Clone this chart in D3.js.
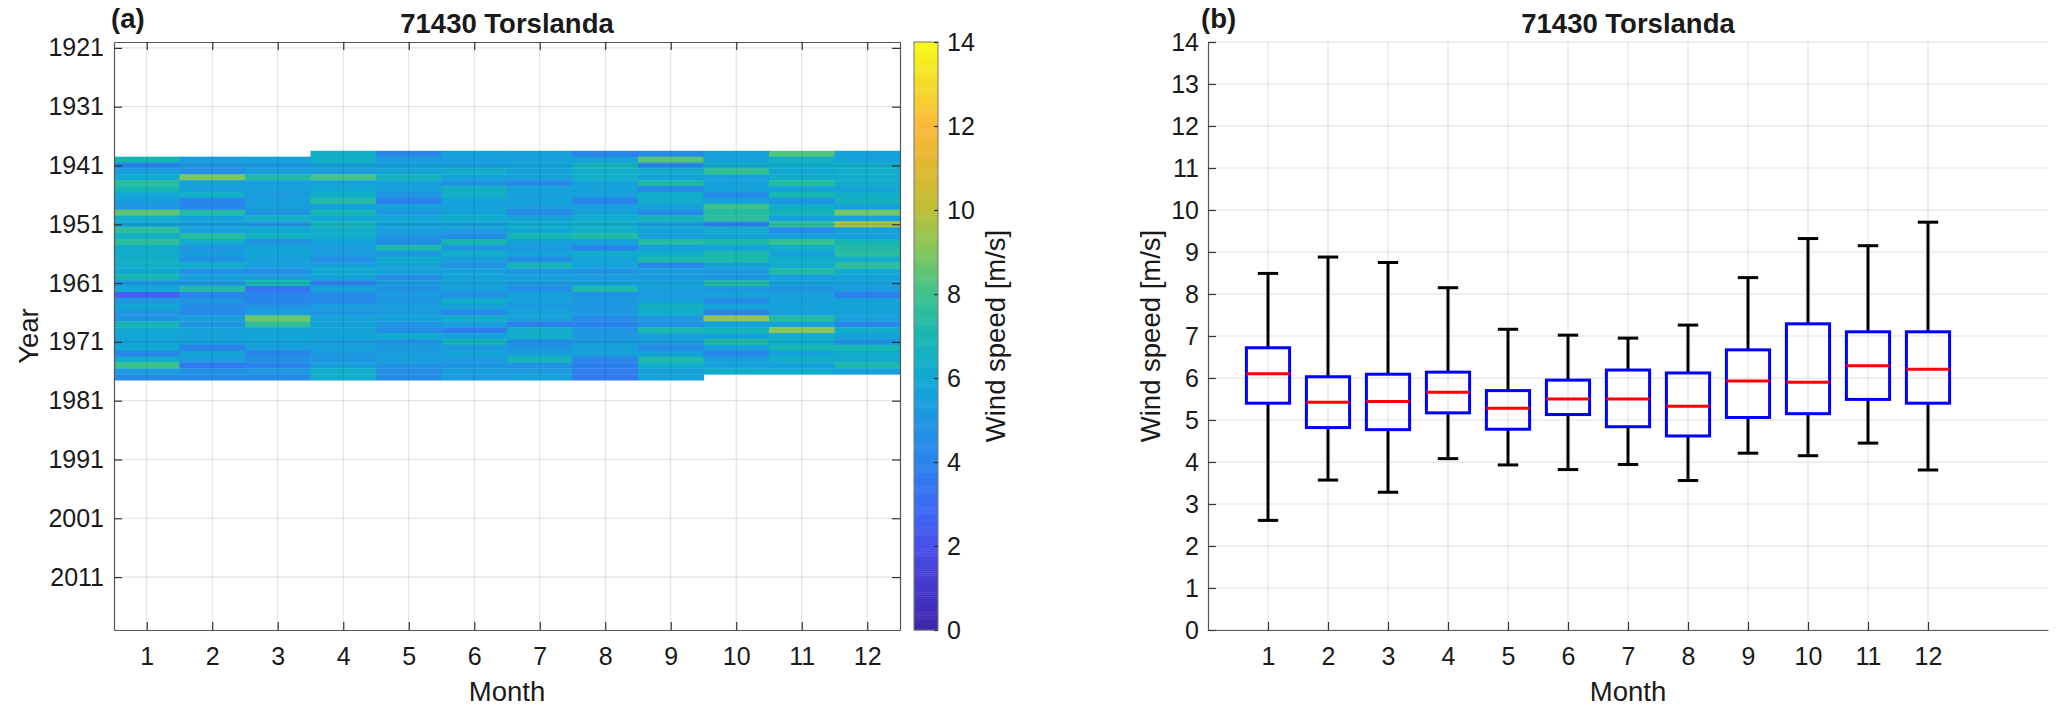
<!DOCTYPE html>
<html><head><meta charset="utf-8">
<script src="https://cdn.jsdelivr.net/npm/d3@7/dist/d3.min.js"></script>
<style>
body{margin:0;background:#fff}
svg{display:block}
text{font-family:"Liberation Sans",Arial,Helvetica,sans-serif;fill:#1a1a1a}
</style>
</head><body>
<svg id="c" width="2067" height="713"></svg>
<script>
// ---------------- DATA ----------------
const stationTitle = "71430 Torslanda";
const months = [1,2,3,4,5,6,7,8,9,10,11,12];
const firstYear = [1940,1940,1940,1939,1939,1939,1939,1939,1939,1939,1939,1939];
// monthly mean wind speed [m/s], one value per year starting at firstYear
const jan = [7.0,4.2,5.5,6.0,7.5,7.0,6.0,5.3,5.0,8.5, 6.3,5.7,7.6,6.4,7.6,6.3,6.3,6.4,6.4,6.1, 7.0,5.2,6.0,2.6,5.1,5.9,5.0,4.8,6.9,6.1, 5.8,5.7,6.0,4.2,6.3,8.0,5.3,4.5];
const feb = [5.3,5.0,4.6,8.9,5.5,5.6,6.4,4.1,4.2,7.3, 5.7,5.4,5.5,7.4,6.3,5.0,5.4,4.8,6.3,4.8, 5.5,5.1,7.3,4.1,4.9,4.5,4.4,5.5,5.0,5.7, 5.5,5.6,4.0,5.7,5.3,3.6,4.8,4.5];
const mar = [5.6,5.1,5.4,7.3,5.5,5.6,5.2,5.5,5.4,4.9, 6.4,5.0,6.0,6.5,4.9,5.7,5.8,5.6,5.5,4.6, 5.3,6.9,3.3,4.1,4.1,4.9,5.4,8.7,7.7,5.7, 5.9,5.6,5.4,4.2,4.8,4.0,5.1,4.5];
const apr = [6.3,6.4,5.7,5.3,8.1,5.6,5.9,6.3,7.4,5.7, 6.9,5.9,6.8,6.3,6.3,5.6,5.3,5.3,4.6,5.6, 6.1,5.7,4.1,5.6,4.4,4.4,5.3,5.0,5.6,5.7, 5.7,5.8,5.3,5.6,5.2,5.0,5.5,6.3,6.2];
const may = [4.2,5.3,5.6,5.7,6.7,5.6,5.5,5.0,3.9,5.6, 5.1,5.9,5.6,5.5,5.0,4.6,7.15,5.2,6.2,5.7, 5.6,4.6,5.2,4.9,5.2,5.0,5.3,5.4,5.6,4.9, 4.6,6.1,5.0,5.2,5.3,5.5,4.9,4.6,4.5];
const jun = [5.6,5.3,5.6,6.3,5.7,4.9,6.5,6.4,5.7,5.6, 5.7,6.2,5.6,5.3,4.6,7.0,5.0,6.3,5.5,4.8, 5.6,5.7,5.6,5.5,4.6,6.3,5.6,4.4,6.3,5.5, 3.8,5.6,6.8,5.3,5.6,5.2,5.0,5.4,5.3];
const jul = [5.5,5.6,5.7,5.7,5.6,4.4,5.6,5.5,5.6,5.3, 4.4,5.7,6.2,5.9,6.95,5.6,5.2,5.6,4.6,6.8, 5.0,5.6,5.2,4.6,5.6,5.5,5.2,5.6,5.6,3.9, 6.3,6.3,4.8,4.8,5.5,6.8,4.9,5.2,5.5];
const aug = [4.0,5.6,6.8,6.3,6.3,5.7,5.6,5.5,4.0,5.5, 5.6,6.2,6.3,6.3,7.25,5.6,4.2,6.3,5.7,5.6, 4.9,5.2,5.6,7.2,4.8,5.2,5.0,5.2,4.4,4.0, 4.9,5.0,5.2,5.6,5.5,4.1,3.9,3.8,3.55];
const sep = [4.4,8.4,4.4,6.3,5.6,7.1,4.4,6.2,6.3,5.6, 4.4,6.8,5.6,5.7,5.6,7.4,5.7,6.3,7.1,4.2, 5.5,5.2,5.6,5.5,5.3,5.6,6.5,6.3,5.2,4.6, 7.1,5.6,5.2,4.4,5.6,7.2,6.3,5.6,5.5];
const oct = [5.5,5.6,6.2,7.8,5.6,5.5,5.7,4.4,5.6,7.9, 7.4,7.6,4.2,6.3,5.7,7.2,5.6,7.1,7.1,5.6, 5.2,4.8,7.3,5.2,5.6,4.4,5.6,4.2,9.3,5.6, 6.8,5.6,7.3,5.5,4.1,5.6,5.6,6.3];
const nov = [8.3,6.5,6.3,5.9,6.3,7.4,5.7,7.0,4.9,6.3, 6.8,5.6,7.6,4.45,5.6,7.8,6.3,5.6,6.3,6.2, 7.3,5.6,5.6,4.9,5.5,5.6,5.7,5.5,7.3,5.7, 9.15,6.3,6.2,6.9,5.7,6.3,5.6,6.2];
const dec = [5.6,5.7,6.3,6.3,6.2,6.3,5.7,6.3,6.7,5.6, 8.8,5.6,9.7,5.6,5.5,6.9,7.3,7.5,6.3,7.6, 6.2,5.6,5.6,5.3,3.8,5.6,5.7,5.6,5.6,4.2, 6.3,5.6,4.9,6.9,6.3,6.2,7.2,5.6];
const monthlySeries = [jan,feb,mar,apr,may,jun,jul,aug,sep,oct,nov,dec];

const yearTicks = [1921,1931,1941,1951,1961,1971,1981,1991,2001,2011];
const speedTicks = [0,1,2,3,4,5,6,7,8,9,10,11,12,13,14];
const colorbarTicks = [0,2,4,6,8,10,12,14];

// box plot statistics per month
const whiskerLow  = [2.61,3.57,3.28,4.08,3.93,3.82,3.94,3.56,4.21,4.15,4.45,3.81];
const quart1      = [5.40,4.82,4.77,5.17,4.78,5.13,4.84,4.62,5.06,5.15,5.49,5.40];
const medians     = [6.10,5.42,5.44,5.66,5.28,5.50,5.50,5.33,5.93,5.90,6.29,6.21];
const quart3      = [6.72,6.03,6.09,6.14,5.70,5.95,6.19,6.12,6.67,7.29,7.10,7.10];
const whiskerHigh = [8.49,8.88,8.75,8.15,7.16,7.02,6.95,7.26,8.39,9.32,9.15,9.71];

// parula-like colormap stops (value 0..14)
const parulaStops = ["#3e26a8","#4536cb","#4750ea","#3c6cf6","#2a82ec","#1e96e2","#0fa9d4",
                     "#16b7b2","#3dc28c","#80c75c","#bcbf36","#dfb82f","#fbb83b","#f4dc2a","#f9fb15"];

// ---------------- DRAW ----------------
const svg = d3.select("#c");
const TICK = 25, LABEL = 27.5;
const axisColor = "#555";

const cells = [];
monthlySeries.forEach((arr, mi) => arr.forEach((v, i) => cells.push({m: months[mi], year: firstYear[mi] + i, v})));

const color = d3.scaleLinear().domain(d3.range(parulaStops.length)).range(parulaStops)
  .interpolate(d3.interpolateRgb).clamp(true);

function styleAxis(g){
  g.selectAll(".domain").attr("stroke", axisColor).attr("stroke-width", 1.2);
  g.selectAll(".tick line").attr("stroke", "#333").attr("stroke-width", 1.2);
  g.selectAll(".tick text").attr("font-size", TICK).attr("fill", "#1a1a1a")
    .attr("font-family", '"Liberation Sans",Arial,sans-serif');
}

// ===== Panel (a) heatmap =====
const A = {l:114, r:900, t:42, b:630};
const xA = d3.scaleLinear().domain([0.5, 12.5]).range([A.l, A.r]);
const yA = d3.scaleLinear().domain([1920, 2020]).range([A.t, A.b]);

const gA = svg.append("g");
gA.append("g").selectAll("rect").data(cells).join("rect")
  .attr("x", d => xA(d.m - 0.5))
  .attr("width", d => xA(d.m + 0.5) - xA(d.m - 0.5) + (d.m < 12 ? 0.6 : 0))
  .attr("y", d => yA(d.year - 0.5))
  .attr("height", d => yA(d.year + 0.5) - yA(d.year - 0.5) + 0.4)
  .attr("fill", d => color(d.v));

// grid on top
const gridA = gA.append("g").attr("stroke", "#262626").attr("stroke-opacity", 0.15).attr("stroke-width", 1);
gridA.selectAll("line.v").data(months).join("line").attr("class","v")
  .attr("x1", d => xA(d)).attr("x2", d => xA(d)).attr("y1", A.t).attr("y2", A.b);
gridA.selectAll("line.h").data(yearTicks).join("line").attr("class","h")
  .attr("y1", d => yA(d)).attr("y2", d => yA(d)).attr("x1", A.l).attr("x2", A.r);

gA.append("g").attr("transform", `translate(0,${A.b})`)
  .call(d3.axisBottom(xA).tickValues(months).tickSize(-8).tickSizeOuter(0).tickPadding(17)).call(styleAxis);
gA.append("g").attr("transform", `translate(0,${A.t})`)
  .call(d3.axisTop(xA).tickValues(months).tickSize(-8).tickSizeOuter(0).tickFormat("")).call(styleAxis);
gA.append("g").attr("transform", `translate(${A.l},0)`)
  .call(d3.axisLeft(yA).tickValues(yearTicks).tickSize(-8).tickSizeOuter(0).tickPadding(10).tickFormat(d3.format("d"))).call(styleAxis);
gA.append("g").attr("transform", `translate(${A.r},0)`)
  .call(d3.axisRight(yA).tickValues(yearTicks).tickSize(-8).tickSizeOuter(0).tickFormat("")).call(styleAxis);

gA.append("text").attr("x", (A.l + A.r) / 2).attr("y", 701).attr("text-anchor", "middle")
  .attr("font-size", LABEL).text("Month");
gA.append("text").attr("transform", `translate(38,${(A.t + A.b) / 2}) rotate(-90)`).attr("text-anchor", "middle")
  .attr("font-size", LABEL).text("Year");
gA.append("text").attr("x", (A.l + A.r) / 2).attr("y", 33).attr("text-anchor", "middle")
  .attr("font-size", 27.5).attr("font-weight", "bold").text(stationTitle);
gA.append("text").attr("x", 111).attr("y", 28).attr("font-size", 27.5).attr("font-weight", "bold").text("(a)");

// colorbar
const CB = {l:914, r:938, t:42, b:630};
const yCB = d3.scaleLinear().domain([0, 14]).range([CB.b, CB.t]);
const cbSteps = d3.range(0, 14, 0.05);
gA.append("g").selectAll("rect").data(cbSteps).join("rect")
  .attr("x", CB.l).attr("width", CB.r - CB.l)
  .attr("y", d => yCB(d + 0.05)).attr("height", d => yCB(d) - yCB(d + 0.05) + 0.4)
  .attr("fill", d => color(d + 0.025));
gA.append("rect").attr("x", CB.l).attr("y", CB.t).attr("width", CB.r - CB.l).attr("height", CB.b - CB.t)
  .attr("fill", "none").attr("stroke", "#777").attr("stroke-width", 1);
const cbAxis = gA.append("g").attr("transform", `translate(${CB.r},0)`)
  .call(d3.axisRight(yCB).tickValues(colorbarTicks).tickSize(-4).tickSizeOuter(0).tickPadding(9)).call(styleAxis);
cbAxis.select(".domain").remove();
gA.append("text").attr("transform", `translate(1005,${(CB.t + CB.b) / 2}) rotate(-90)`).attr("text-anchor", "middle")
  .attr("font-size", LABEL).text("Wind speed [m/s]");

// ===== Panel (b) box plots =====
const B = {l:1208, r:2048, t:42, b:630};
const xB = d3.scaleLinear().domain([0, 14]).range([B.l, B.r]);
const yB = d3.scaleLinear().domain([0, 14]).range([B.b, B.t]);
const gB = svg.append("g");

const gridB = gB.append("g").attr("stroke", "#262626").attr("stroke-opacity", 0.15).attr("stroke-width", 1);
gridB.selectAll("line.v").data(months).join("line").attr("class","v")
  .attr("x1", d => xB(d)).attr("x2", d => xB(d)).attr("y1", B.t).attr("y2", B.b);
gridB.selectAll("line.h").data(speedTicks).join("line").attr("class","h")
  .attr("y1", d => yB(d)).attr("y2", d => yB(d)).attr("x1", B.l).attr("x2", B.r);

const boxes = months.map((m, i) => ({m, lo: whiskerLow[i], q1: quart1[i], med: medians[i], q3: quart3[i], hi: whiskerHigh[i]}));
const halfBox = 0.36, halfCap = 0.17, lw = 3;
const bg = gB.append("g").selectAll("g").data(boxes).join("g");
// whiskers
bg.append("line").attr("x1", d => xB(d.m)).attr("x2", d => xB(d.m)).attr("y1", d => yB(d.hi)).attr("y2", d => yB(d.q3))
  .attr("stroke", "#000").attr("stroke-width", lw);
bg.append("line").attr("x1", d => xB(d.m)).attr("x2", d => xB(d.m)).attr("y1", d => yB(d.q1)).attr("y2", d => yB(d.lo))
  .attr("stroke", "#000").attr("stroke-width", lw);
bg.append("line").attr("x1", d => xB(d.m - halfCap)).attr("x2", d => xB(d.m + halfCap)).attr("y1", d => yB(d.hi)).attr("y2", d => yB(d.hi))
  .attr("stroke", "#000").attr("stroke-width", lw);
bg.append("line").attr("x1", d => xB(d.m - halfCap)).attr("x2", d => xB(d.m + halfCap)).attr("y1", d => yB(d.lo)).attr("y2", d => yB(d.lo))
  .attr("stroke", "#000").attr("stroke-width", lw);
// box
bg.append("rect").attr("x", d => xB(d.m - halfBox)).attr("width", d => xB(d.m + halfBox) - xB(d.m - halfBox))
  .attr("y", d => yB(d.q3)).attr("height", d => yB(d.q1) - yB(d.q3))
  .attr("fill", "none").attr("stroke", "#0000ff").attr("stroke-width", lw);
// median
bg.append("line").attr("x1", d => xB(d.m - halfBox)).attr("x2", d => xB(d.m + halfBox)).attr("y1", d => yB(d.med)).attr("y2", d => yB(d.med))
  .attr("stroke", "#ff0000").attr("stroke-width", lw);

gB.append("g").attr("transform", `translate(0,${B.b})`)
  .call(d3.axisBottom(xB).tickValues(months).tickSize(-8).tickSizeOuter(0).tickPadding(17)).call(styleAxis);
gB.append("g").attr("transform", `translate(${B.l},0)`)
  .call(d3.axisLeft(yB).tickValues(speedTicks).tickSize(-8).tickSizeOuter(0).tickPadding(9)).call(styleAxis);

gB.append("text").attr("x", (B.l + B.r) / 2).attr("y", 701).attr("text-anchor", "middle")
  .attr("font-size", LABEL).text("Month");
gB.append("text").attr("transform", `translate(1160,${(B.t + B.b) / 2}) rotate(-90)`).attr("text-anchor", "middle")
  .attr("font-size", LABEL).text("Wind speed [m/s]");
gB.append("text").attr("x", (B.l + B.r) / 2).attr("y", 33).attr("text-anchor", "middle")
  .attr("font-size", 27.5).attr("font-weight", "bold").text(stationTitle);
gB.append("text").attr("x", 1201).attr("y", 28).attr("font-size", 27.5).attr("font-weight", "bold").text("(b)");
</script>
</body></html>
